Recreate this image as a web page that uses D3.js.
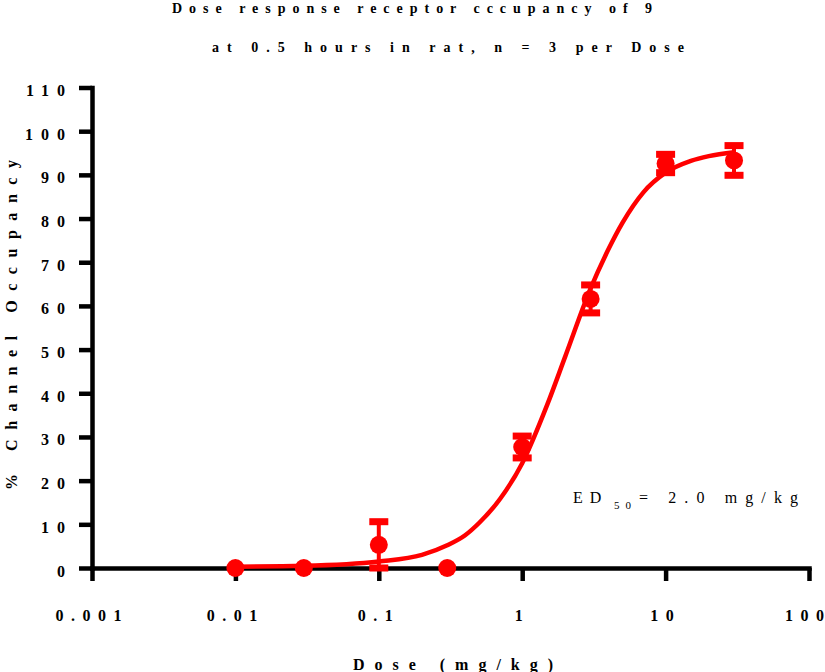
<!DOCTYPE html>
<html>
<head>
<meta charset="utf-8">
<script src="https://cdn.jsdelivr.net/npm/d3@7"></script>
<style>
  html, body { margin: 0; padding: 0; background: #fff; }
  svg { display: block; }
</style>
</head>
<body>
<script>
// ---- Data ----
const doses = [0.01, 0.03, 0.1, 0.3, 1, 3, 10, 30];
const occupancy = [0, 0, 5.3, 0, 27.7, 61.6, 92.6, 93.3];
const sem = [0, 0, 5.3, 0, 2.5, 3.2, 2.1, 3.4];

// fitted curve
const fitDoses = [0.01, 0.03, 0.1, 0.2, 0.3, 0.4, 0.5, 0.7, 1, 1.5, 2, 3, 4, 5, 7, 10, 15, 20, 30];
const fitValues = [0.3, 0.5, 1.5, 3.0, 5.2, 7.5, 10.3, 15.8, 24, 37.5, 48.5, 64, 73, 79, 86, 90.5, 93.2, 94.3, 95.2];

const yTicks = [0, 10, 20, 30, 40, 50, 60, 70, 80, 90, 100, 110];
const xTicks = [0.001, 0.01, 0.1, 1, 10, 100];
const xTickLabels = ["0.001", "0.01", "0.1", "1", "10", "100"];

const titleLines = ["Dose response receptor cccupancy of 9", "at 0.5 hours in rat, n = 3 per Dose"];
const xTitle = "Dose (mg/kg)";
const yTitle = "% Channel Occupancy";

// ---- Layout ----
const W = 825, H = 672;
const RED = "#ff0000";
const SERIF = "'Liberation Serif', 'Times New Roman', serif";

const svg = d3.select("body").append("svg")
  .attr("width", W).attr("height", H)
  .attr("viewBox", `0 0 ${W} ${H}`);
svg.append("rect").attr("width", W).attr("height", H).attr("fill", "#fff");

const x = d3.scaleLog().domain([0.001, 100]).range([92, 809]);
const y = d3.scaleLinear().domain([0, 110]).range([568, 87.5]);

// ---- Axes ----
const yAxis = d3.axisLeft(y).tickValues(yTicks).tickSize(13).tickSizeOuter(0).tickPadding(6)
  .tickFormat(d3.format("d"));
const gy = svg.append("g").attr("transform", `translate(${x(0.001)},0)`)
  .call(yAxis)
  .attr("font-family", SERIF).attr("font-size", 16).attr("font-weight", "bold");
gy.selectAll("text").attr("letter-spacing", "8px").attr("dy", "0.5em");

const xAxis = d3.axisBottom(x).tickValues(xTicks).tickSize(13).tickSizeOuter(0).tickPadding(29)
  .tickFormat((d, i) => xTickLabels[i]);
const gx = svg.append("g").attr("transform", `translate(0,${y(0)})`)
  .call(xAxis)
  .attr("font-family", SERIF).attr("font-size", 16).attr("font-weight", "bold");
// spread the digits without trailing space: use textLength
gx.selectAll(".tick text").each(function (d, i) {
  const t = d3.select(this);
  const n = xTickLabels[i].length;
  const w = this.getComputedTextLength() + (n - 1) * 7.5;
  t.attr("textLength", w).attr("lengthAdjust", "spacing")
   .attr("dx", i === xTicks.length - 1 ? "-5px" : "-4px");
});

[gx, gy].forEach(g => {
  g.selectAll(".tick line").attr("stroke", "#000").attr("stroke-width", 4.5);
  g.select(".domain").attr("stroke", "#000").attr("stroke-width", 4.5).attr("stroke-linecap", "square");
  g.selectAll("text").attr("fill", "#000");
});

// ---- Fitted curve ----
const fit = fitDoses.map((d, i) => ({ d, v: fitValues[i] }));
svg.append("path")
  .datum(fit)
  .attr("fill", "none")
  .attr("stroke", RED)
  .attr("stroke-width", 4.5)
  .attr("d", d3.line().x(p => x(p.d)).y(p => y(p.v)).curve(d3.curveMonotoneX));

// ---- Error bars and points ----
const pts = doses.map((d, i) => ({ d, v: occupancy[i], e: sem[i] }));
const eb = svg.append("g").attr("fill", RED).attr("stroke", RED);
pts.filter(p => p.e > 0).forEach(p => {
  const cx = x(p.d);
  eb.append("line")
    .attr("x1", cx).attr("x2", cx)
    .attr("y1", y(p.v + p.e)).attr("y2", y(p.v - p.e))
    .attr("stroke-width", 4);
  [p.v + p.e, p.v - p.e].forEach(val => {
    eb.append("rect")
      .attr("x", cx - 9.5).attr("y", y(val) - 3.5)
      .attr("width", 19).attr("height", 7)
      .attr("stroke", "none");
  });
});
svg.append("g").selectAll("circle").data(pts).join("circle")
  .attr("cx", p => x(p.d)).attr("cy", p => y(p.v))
  .attr("r", 9).attr("fill", RED);

// ---- Titles ----
const title = svg.append("g").attr("font-family", SERIF).attr("font-size", 14).attr("font-weight", "bold")
  .attr("fill", "#000");
title.append("text").attr("x", 172).attr("y", 13)
  .attr("textLength", 480).attr("lengthAdjust", "spacing").text(titleLines[0]);
title.append("text").attr("x", 212).attr("y", 52)
  .attr("textLength", 472).attr("lengthAdjust", "spacing").text(titleLines[1]);

svg.append("text")
  .attr("x", 353).attr("y", 670)
  .attr("font-family", SERIF).attr("font-size", 16).attr("font-weight", "bold")
  .attr("textLength", 200).attr("lengthAdjust", "spacing").attr("fill", "#000")
  .text(xTitle);

svg.append("text")
  .attr("transform", "translate(17,490) rotate(-90)")
  .attr("font-family", SERIF).attr("font-size", 16).attr("font-weight", "bold")
  .attr("textLength", 330).attr("lengthAdjust", "spacing").attr("fill", "#000")
  .text(yTitle);

// ---- ED50 annotation ----
const ann = svg.append("g").attr("font-family", SERIF).attr("fill", "#000");
ann.append("text").attr("x", 573).attr("y", 503).attr("font-size", 16)
  .attr("letter-spacing", "7px").text("ED");
ann.append("text").attr("x", 614).attr("y", 509).attr("font-size", 11)
  .attr("letter-spacing", "6px").text("50");
ann.append("text").attr("x", 639).attr("y", 503).attr("font-size", 16)
  .attr("textLength", 159).attr("lengthAdjust", "spacing").text("= 2.0 mg/kg");
</script>
</body>
</html>
